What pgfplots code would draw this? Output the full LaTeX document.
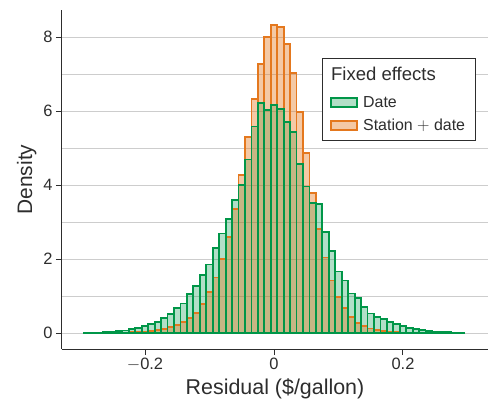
\documentclass[border=0pt]{standalone}
\usepackage{fontspec}
\setmainfont{Liberation Sans}
\usepackage{pgfplots}
\usepackage{pgfplotstable}
\pgfplotsset{compat=1.18}
\definecolor{cgreen}{RGB}{0,150,72}
\definecolor{corange}{RGB}{228,120,30}
\definecolor{txt}{RGB}{45,45,45}
\definecolor{gridc}{RGB}{205,205,205}
\pgfplotstableread{
x y
-0.29 0.003
-0.28 0.004
-0.27 0.005
-0.26 0.006
-0.25 0.008
-0.24 0.01
-0.23 0.015
-0.22 0.02
-0.21 0.03
-0.20 0.04
-0.19 0.06
-0.18 0.08
-0.17 0.11
-0.16 0.16
-0.15 0.22
-0.14 0.29
-0.13 0.41
-0.12 0.55
-0.11 0.78
-0.10 1.10
-0.09 1.50
-0.08 2.01
-0.07 2.60
-0.06 3.36
-0.05 4.28
-0.04 5.29
-0.03 6.33
-0.02 7.27
-0.01 8.01
0.00 8.33
0.01 8.26
0.02 7.81
0.03 7.02
0.04 5.97
0.05 4.86
0.06 3.79
0.07 2.81
0.08 2.04
0.09 1.42
0.10 0.97
0.11 0.67
0.12 0.44
0.13 0.28
0.14 0.19
0.15 0.12
0.16 0.08
0.17 0.05
0.18 0.035
0.19 0.025
0.20 0.015
0.21 0.01
0.22 0.008
0.23 0.006
0.24 0.005
0.25 0.004
0.26 0.003
0.27 0.003
0.28 0.002
0.29 0.002
}\stationdate
\pgfplotstableread{
x y
-0.29 0.005
-0.28 0.008
-0.27 0.012
-0.26 0.02
-0.25 0.03
-0.24 0.045
-0.23 0.07
-0.22 0.10
-0.21 0.14
-0.20 0.18
-0.19 0.25
-0.18 0.30
-0.17 0.41
-0.16 0.52
-0.15 0.67
-0.14 0.80
-0.13 1.05
-0.12 1.27
-0.11 1.56
-0.10 1.85
-0.09 2.30
-0.08 2.69
-0.07 3.09
-0.06 3.60
-0.05 3.99
-0.04 4.69
-0.03 5.58
-0.02 6.22
-0.01 6.03
0.00 6.17
0.01 6.05
0.02 5.70
0.03 5.43
0.04 4.57
0.05 3.96
0.06 3.52
0.07 3.49
0.08 2.74
0.09 2.21
0.10 1.66
0.11 1.42
0.12 1.07
0.13 0.95
0.14 0.71
0.15 0.53
0.16 0.44
0.17 0.38
0.18 0.30
0.19 0.24
0.20 0.19
0.21 0.14
0.22 0.11
0.23 0.08
0.24 0.06
0.25 0.04
0.26 0.03
0.27 0.02
0.28 0.015
0.29 0.01
}\datefe
\begin{document}
\begin{tikzpicture}
\begin{axis}[
  at={(0,0)}, anchor=south west, scale only axis,
  width=426bp, height=339bp,
  xmin=-0.3287, xmax=0.3318, ymin=-0.432, ymax=8.73,
  axis x line*=bottom, axis y line*=left,
  axis line style={txt, line width=1bp, -},
  xtick={-0.2,0,0.2}, xticklabels={$-$0.2,0,0.2},
  ytick={0,2,4,6,8},
  minor ytick={1,3,5,7},
  ymajorgrids, yminorgrids,
  major grid style={gridc, line width=1bp},
  minor grid style={gridc, line width=1bp},
  minor tick length=0pt,
  tick align=outside, major tick length=6bp,
  tick style={txt, line width=1bp},
  ticklabel style={font=\fontsize{16.5}{18}\selectfont, text=txt},
  xlabel style={font=\fontsize{21.5}{24}\selectfont, text=txt},
  ylabel style={font=\fontsize{21}{23}\selectfont, text=txt},
  xlabel={Residual (\$/gallon)},
  ylabel={Density},
  /pgf/number format/assume math mode=true,
  legend style={at={(0.61,0.858)}, anchor=north west, draw=txt, line width=1bp,
    font=\fontsize{16}{19}\selectfont, text=txt, inner xsep=8bp, inner ysep=6bp,
    row sep=6bp, column sep=3bp},
  legend cell align=left,
  legend image code/.code={\draw[#1] (0bp,-4.5bp) rectangle (26bp,4.5bp);},
]
\addlegendimage{empty legend}
\addlegendentry{\hspace{-32bp}\fontsize{18.6}{21}\selectfont\raisebox{5bp}{Fixed effects}}
\addlegendimage{draw=cgreen, line width=1.8bp, fill=cgreen, fill opacity=0.3, draw opacity=1}
\addlegendentry{Date}
\addlegendimage{draw=corange, line width=1.8bp, fill=corange, fill opacity=0.4, draw opacity=1}
\addlegendentry{Station $+$ date}

\addplot[ybar, bar width=0.01, bar shift=0pt, draw=none, fill=cgreen, fill opacity=0.3, forget plot] table[x=x,y=y] {\datefe};
\addplot[ybar, bar width=0.01, bar shift=0pt, draw=corange, line width=1.8bp, fill=corange, fill opacity=0.4, draw opacity=1, forget plot] table[x=x,y=y] {\stationdate};
\addplot[ybar, bar width=0.01, bar shift=0pt, draw=cgreen, line width=1.8bp, fill=none, forget plot] table[x=x,y=y] {\datefe};
\end{axis}
\pgfresetboundingbox
\path[use as bounding box] (-62bp,-58bp) rectangle (426bp,349bp);
\end{tikzpicture}
\end{document}
